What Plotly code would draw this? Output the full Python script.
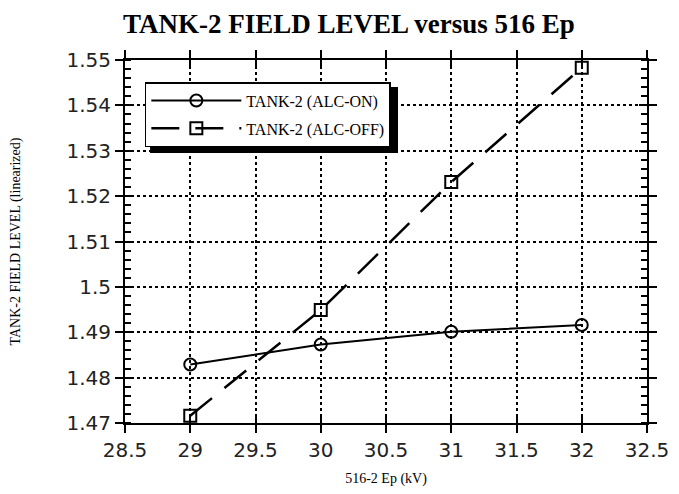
import plotly.graph_objects as go

ep_kv = [29, 30, 31, 32]
alc_on = [1.4829, 1.4873, 1.4901, 1.4916]
alc_off = [1.4716, 1.4949, 1.5231, 1.5483]
name_on = "TANK-2 (ALC-ON)"
name_off = "TANK-2 (ALC-OFF)"

fig = go.Figure()
fig.add_trace(go.Scatter(
    x=ep_kv, y=alc_on, name=name_on, mode="lines+markers", legendgroup="on",
    line=dict(color="black", width=2),
    marker=dict(symbol="circle-open", size=12, color="black", line=dict(width=2)),
))
fig.add_trace(go.Scatter(
    x=ep_kv, y=alc_off, name=name_off, mode="lines+markers", legendgroup="off",
    line=dict(color="black", width=2.5, dash="28px,16px"),
    marker=dict(symbol="square-open", size=12, color="black", line=dict(width=2)),
))
# invisible trace to anchor overlay axes (crossing tick marks)
fig.add_trace(go.Scatter(x=[ep_kv[0]], y=[alc_on[0]], xaxis="x2", yaxis="y2",
                         mode="markers", marker=dict(opacity=0), showlegend=False,
                         hoverinfo="skip"))

tickfont = dict(family="DejaVu Sans", size=20, color="#222")
fig.update_layout(
    width=679, height=494,
    paper_bgcolor="white", plot_bgcolor="white",
    margin=dict(l=117, r=40, t=52, b=79),
    title=dict(text="<b>TANK-2 FIELD LEVEL versus 516 Ep</b>", x=0.502, xanchor="center",
               y=0.988, yanchor="top",
               font=dict(family="Liberation Serif", size=27, color="black")),
    xaxis=dict(range=[28.5, 32.5], dtick=0.5, tick0=28.5, showline=True, linecolor="black",
               linewidth=2, mirror="ticks", ticks="outside", ticklen=8, tickwidth=2,
               tickcolor="black", showgrid=True, gridcolor="black", griddash="dot",
               gridwidth=1.5, zeroline=False, tickfont=tickfont, automargin=False,
               title=dict(text="516-2 Ep (kV)", standoff=12,
                          font=dict(family="Liberation Serif", size=14, color="black"))),
    xaxis2=dict(range=[28.5, 32.5], dtick=0.5, tick0=28.5, overlaying="x", matches="x",
                showline=False, ticks="inside", ticklen=8, tickwidth=2, tickcolor="black",
                mirror="ticks", showticklabels=False, showgrid=False, zeroline=False,
                automargin=False),
    yaxis=dict(range=[1.47, 1.55], dtick=0.01, tick0=1.47, showline=True, linecolor="black",
               linewidth=2, mirror="ticks", ticks="outside", ticklen=8, tickwidth=2,
               tickcolor="black", showgrid=True, gridcolor="black", griddash="dot",
               gridwidth=1.5, zeroline=False, tickfont=tickfont, automargin=False,
               minor=dict(dtick=0.002, ticks="inside", ticklen=6, tickwidth=1.5,
                          tickcolor="black", showgrid=False),
               title=dict(text="TANK-2 FIELD LEVEL (linearized)", standoff=46,
                          font=dict(family="Liberation Serif", size=14, color="black"))),
    yaxis2=dict(range=[1.47, 1.55], dtick=0.01, tick0=1.47, overlaying="y", matches="y",
                showline=False, ticks="inside", ticklen=8, tickwidth=2, tickcolor="black",
                mirror="ticks", showticklabels=False, showgrid=False, zeroline=False,
                automargin=False),
    legend=dict(x=0.038, y=0.939, xanchor="left", yanchor="top",
                bgcolor="white", bordercolor="black", borderwidth=1.5,
                font=dict(family="Liberation Serif", size=16, color="black"),
                itemwidth=90, tracegroupgap=4),
    showlegend=True,
)
# legend drop shadow
fig.add_shape(type="rect", xref="paper", yref="paper", layer="above",
              x0=0.048, x1=0.523, y0=0.744, y1=0.9256,
              fillcolor="black", line=dict(width=0))

fig.write_html("out.html")
